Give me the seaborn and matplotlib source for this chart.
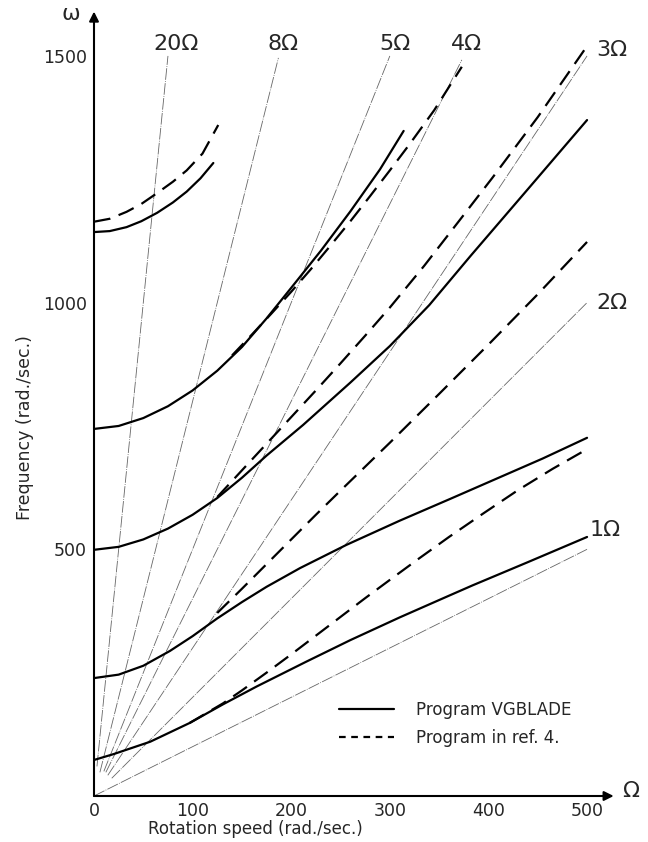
import numpy as np
import matplotlib
matplotlib.use("Agg")
import matplotlib.pyplot as plt
import seaborn as sns
from matplotlib.lines import Line2D

# ------------------------------
# Data
# ------------------------------
# Program VGBLADE (solid curves)
m1_x = [0, 20, 57, 97, 131, 165, 215, 260, 310, 360, 384, 440, 500]
m1_y = [73, 85, 110, 148, 186, 222, 272, 316, 362, 406, 427, 474, 525]

m2_x = [0, 25, 50, 77, 100, 125, 150, 175, 209, 256, 310, 361, 408, 455, 500]
m2_y = [239, 246, 264, 294, 324, 360, 393, 424, 462, 509, 558, 602, 643, 684, 726]

m3_x = [0, 25, 50, 75, 100, 125, 150, 175, 212, 260, 300, 340, 382, 440, 500]
m3_y = [499, 505, 520, 542, 570, 604, 645, 690, 752, 838, 912, 995, 1095, 1230, 1370]

m4_x = [0, 25, 50, 75, 100, 125, 150, 175, 200, 230, 260, 290, 314]
m4_y = [744, 750, 766, 790, 822, 862, 910, 968, 1030, 1105, 1185, 1270, 1348]

m5_x = [0, 16, 33, 48, 64, 80, 94, 108, 121]
m5_y = [1143, 1145, 1153, 1165, 1182, 1203, 1225, 1252, 1283]

# Program in ref. 4 (dashed curves)
r1_x = [97, 131, 150, 175, 200, 225, 250, 275, 300, 330, 360, 395, 430, 465, 500]
r1_y = [148, 188, 214, 250, 287, 325, 363, 401, 438, 482, 525, 573, 620, 663, 703]

r2_x = [125, 150, 175, 200, 225, 250, 300, 350, 400, 450, 500]
r2_y = [371, 420, 470, 520, 570, 619, 716, 815, 915, 1017, 1123]

r3_x = [125, 150, 175, 200, 225, 250, 275, 300, 335, 370, 404, 450, 500]
r3_y = [606, 660, 714, 768, 822, 877, 933, 990, 1075, 1165, 1253, 1376, 1520]

r4_x = [140, 160, 180, 200, 220, 240, 260, 280, 300, 320, 345, 373]
r4_y = [893, 935, 978, 1022, 1068, 1116, 1165, 1216, 1268, 1321, 1390, 1478]

r5_x = [0, 16, 33, 48, 64, 80, 94, 110, 126]
r5_y = [1164, 1170, 1184, 1200, 1222, 1245, 1268, 1302, 1360]

# Engine order lines k*Omega
orders = [1, 2, 3, 4, 5, 8, 20]
order_start = [0, 18, 14, 12, 10, 6, 3]
order_end = [500, 500, 500, 373, 300, 187, 75]
order_labels = ["1Ω", "2Ω", "3Ω", "4Ω", "5Ω", "8Ω", "20Ω"]
label_x = [518, 525, 525, 378, 305, 192, 83]
label_y = [540, 1000, 1512, 1525, 1525, 1525, 1525]

x_ticks = [0, 100, 200, 300, 400, 500]
y_ticks = [500, 1000, 1500]

# ------------------------------
# Figure
# ------------------------------
sns.set_style("white")
plt.rcParams['font.family'] = ['DejaVu Sans']

fig = plt.figure(figsize=(6.48, 8.42), dpi=100)
ax = fig.add_axes([94 / 648, 46 / 842, 517.7 / 648, 782 / 842])

# thin order lines
for k, x0, x1 in zip(orders, order_start, order_end):
    xs = [x0, x1]
    ys = [k * x0, k * x1]
    sns.lineplot(x=xs, y=ys, ax=ax, color="0.4", lw=0.6, sort=False,
                 linestyle=(0, (14, 1.5, 1, 1.5)))

solid = dict(color="black", lw=1.6, sort=False)
dashed = dict(color="black", lw=1.6, sort=False, linestyle=(0, (7.5, 4)))

for xs, ys in [(m1_x, m1_y), (m2_x, m2_y), (m3_x, m3_y), (m4_x, m4_y), (m5_x, m5_y)]:
    sns.lineplot(x=xs, y=ys, ax=ax, **solid)
for xs, ys in [(r1_x, r1_y), (r2_x, r2_y), (r3_x, r3_y), (r4_x, r4_y), (r5_x, r5_y)]:
    sns.lineplot(x=xs, y=ys, ax=ax, **dashed)

for lab, lx, ly in zip(order_labels, label_x, label_y):
    ax.text(lx, ly, lab, fontsize=16, ha="center", va="center", clip_on=False)

ax.set_xlim(0, 525)
ax.set_ylim(0, 1585)
for s in ax.spines.values():
    s.set_visible(False)

# axes drawn as arrows
ax.annotate("", xy=(527, 0), xytext=(0, 0), annotation_clip=False,
            arrowprops=dict(arrowstyle="-|>", lw=1.5, color="black",
                            mutation_scale=14, shrinkA=0, shrinkB=0))
ax.annotate("", xy=(0, 1590), xytext=(0, 0), annotation_clip=False,
            arrowprops=dict(arrowstyle="-|>", lw=1.5, color="black",
                            mutation_scale=14, shrinkA=0, shrinkB=0))
ax.text(536, 10, "Ω", fontsize=16, ha="left", va="center", clip_on=False)
ax.text(-24, 1585, "ω", fontsize=16, ha="center", va="center", clip_on=False)

ax.set_xticks(x_ticks)
ax.set_xticklabels([str(v) for v in x_ticks])
ax.set_yticks(y_ticks)
ax.set_yticklabels([str(v) for v in y_ticks])
ax.tick_params(axis="x", direction="in", length=7, width=1.2, labelsize=12.5, pad=4)
ax.tick_params(axis="y", direction="in", length=7, width=1.2, labelsize=12.5, pad=5)

fig.text(255 / 648, 1 - 829 / 842, "Rotation speed (rad./sec.)", fontsize=12,
         ha="center", va="center")
fig.text(25 / 648, 1 - 428 / 842, "Frequency (rad./sec.)", fontsize=12.5,
         ha="center", va="center", rotation=90)

handles = [Line2D([], [], color="black", lw=1.6),
           Line2D([], [], color="black", lw=1.6, linestyle=(0, (3, 2.5)))]
ax.legend(handles, ["Program VGBLADE", "Program in ref. 4."], loc="center left",
          bbox_to_anchor=(0.473, 0.0927), frameon=False, fontsize=12,
          handlelength=3.3, handletextpad=1.3, labelspacing=0.6, borderpad=0,
          borderaxespad=0)

fig.savefig("out.png", dpi=100)
